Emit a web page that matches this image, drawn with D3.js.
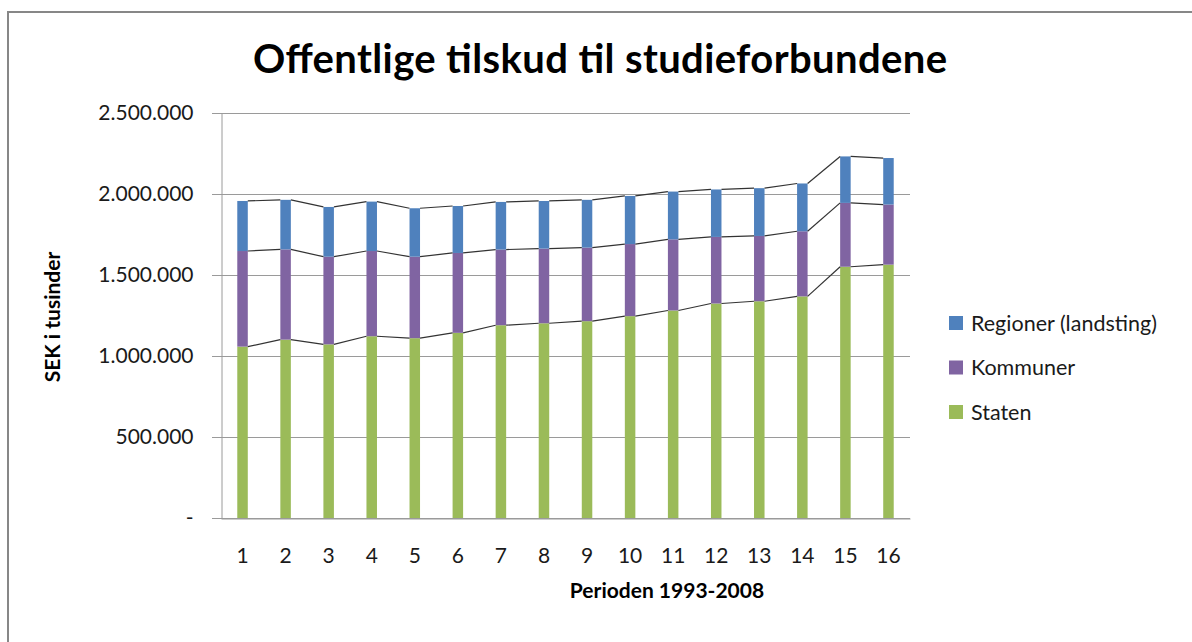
<!DOCTYPE html>
<html>
<head>
<meta charset="utf-8">
<script src="https://cdn.jsdelivr.net/npm/d3@7"></script>
<style>
  body { margin: 0; background: #fff; }
  svg { display: block; font-family: Lato, "Open Sans", sans-serif; }
</style>
</head>
<body>
<div id="chart"></div>
<script>
// periods 1..16 (1993-2008), values in SEK thousands
var periods = d3.range(1, 17).map(String);
var staten = [1058000, 1101000, 1072000, 1122000, 1110000, 1143000, 1190000, 1202000,
              1215000, 1246000, 1281000, 1324000, 1338000, 1368000, 1551000, 1564000];
var kommuner = [590000, 557000, 541000, 526000, 503000, 493000, 467000, 461000,
                454000, 445000, 439000, 411000, 403000, 402000, 394000, 371000];
var regioner = [309000, 306000, 307000, 305000, 299000, 290000, 294000, 294000,
                295000, 297000, 295000, 293000, 295000, 295000, 287000, 287000];
var seriesNames = ["Staten", "Kommuner", "Regioner (landsting)"];
var seriesColors = ["#9BBB59", "#8064A2", "#4F81BD"];
var yTicks = [0, 500000, 1000000, 1500000, 2000000, 2500000];

var W = 1192, H = 642;
var plot = {left: 221, right: 910, top: 113, bottom: 518};

var svg = d3.select('#chart').append('svg').attr('width', W).attr('height', H);

svg.append('rect').attr('width', W).attr('height', H).attr('fill', '#fff');
// chart frame
svg.append('rect')
    .attr('x', 8).attr('y', 12).attr('width', W + 20).attr('height', H + 20)
    .attr('fill', 'none').attr('stroke', '#878787').attr('stroke-width', 2);

svg.append('text')
    .attr('x', 600).attr('y', 73)
    .attr('text-anchor', 'middle')
    .attr('font-size', 40).attr('font-weight', 'bold').attr('fill', '#000')
    .attr('textLength', 694).attr('lengthAdjust', 'spacing')
    .text('Offentlige tilskud til studieforbundene');

var data = periods.map(function (p, i) {
    return {period: p, Staten: staten[i], Kommuner: kommuner[i], "Regioner (landsting)": regioner[i]};
});
var stacked = d3.stack().keys(seriesNames)(data);

var x = d3.scaleBand().domain(periods).range([plot.left, plot.right])
    .paddingInner(0.756).paddingOuter(0.378);
var y = d3.scaleLinear().domain([0, 2500000]).range([plot.bottom, plot.top]);

var fmt = function (v) {
    if (v === 0) return '-';
    return d3.format(',')(v).replace(/,/g, '.');
};

// gridlines
svg.append('g').selectAll('line').data(yTicks).enter().append('line')
    .attr('x1', plot.left - 9).attr('x2', plot.right)
    .attr('y1', function (d) { return Math.round(y(d)) + 0.5; })
    .attr('y2', function (d) { return Math.round(y(d)) + 0.5; })
    .attr('stroke', '#9a9a9a').attr('stroke-width', 1);

// y axis
var yAxis = svg.append('g').attr('transform', 'translate(' + (plot.left + 0.5) + ',0)')
    .call(d3.axisLeft(y).tickValues(yTicks).tickFormat(fmt).tickSize(9).tickPadding(19));
yAxis.select('.domain').attr('stroke', '#9a9a9a');
yAxis.selectAll('.tick line').attr('stroke', '#9a9a9a');
yAxis.selectAll('text').attr('font-size', 21).attr('fill', '#1a1a1a').attr('font-family', 'Lato, sans-serif');

// x axis
var xAxis = svg.append('g').attr('transform', 'translate(0,' + (plot.bottom + 0.5) + ')')
    .call(d3.axisBottom(x).tickSize(0).tickPadding(30));
xAxis.select('.domain').attr('stroke', '#9a9a9a');
xAxis.selectAll('text').attr('font-size', 21).attr('fill', '#1a1a1a').attr('font-family', 'Lato, sans-serif');

// bars
var layers = svg.append('g').selectAll('g.layer').data(stacked).enter().append('g')
    .attr('class', 'layer').attr('fill', function (d, i) { return seriesColors[i]; });
layers.selectAll('rect').data(function (d) { return d; }).enter().append('rect')
    .attr('x', function (d) { return x(d.data.period); })
    .attr('width', x.bandwidth())
    .attr('y', function (d) { return y(d[1]); })
    .attr('height', function (d) { return y(d[0]) - y(d[1]); });

// series lines connecting stacked tops
var bw = x.bandwidth();
stacked.forEach(function (layer) {
    var segs = [];
    for (var i = 0; i < layer.length - 1; i++) {
        segs.push([[x(periods[i]) + bw, y(layer[i][1])], [x(periods[i + 1]), y(layer[i + 1][1])]]);
    }
    svg.append('g').selectAll('path').data(segs).enter().append('path')
        .attr('d', d3.line())
        .attr('fill', 'none').attr('stroke', '#333').attr('stroke-width', 1.2);
});

// axis titles
svg.append('text')
    .attr('transform', 'translate(60,' + 317 + ') rotate(-90)')
    .attr('text-anchor', 'middle')
    .attr('font-size', 21).attr('font-weight', 'bold').attr('fill', '#000')
    .text('SEK i tusinder');
svg.append('text')
    .attr('x', 667).attr('y', 598)
    .attr('text-anchor', 'middle')
    .attr('font-size', 21).attr('font-weight', 'bold').attr('fill', '#000')
    .text('Perioden 1993-2008');

// legend (reversed order like the source)
var legendItems = seriesNames.slice().reverse();
var legend = svg.append('g').selectAll('g').data(legendItems).enter().append('g')
    .attr('transform', function (d, i) { return 'translate(949,' + (323 + i * 44.5) + ')'; });
legend.append('rect').attr('x', 0).attr('y', -7).attr('width', 14).attr('height', 14)
    .attr('fill', function (d) { return seriesColors[seriesNames.indexOf(d)]; });
legend.append('text').attr('x', 22).attr('y', 0).attr('dy', '0.35em')
    .attr('font-size', 21.5).attr('fill', '#1a1a1a')
    .text(function (d) { return d; });
</script>
</body>
</html>
